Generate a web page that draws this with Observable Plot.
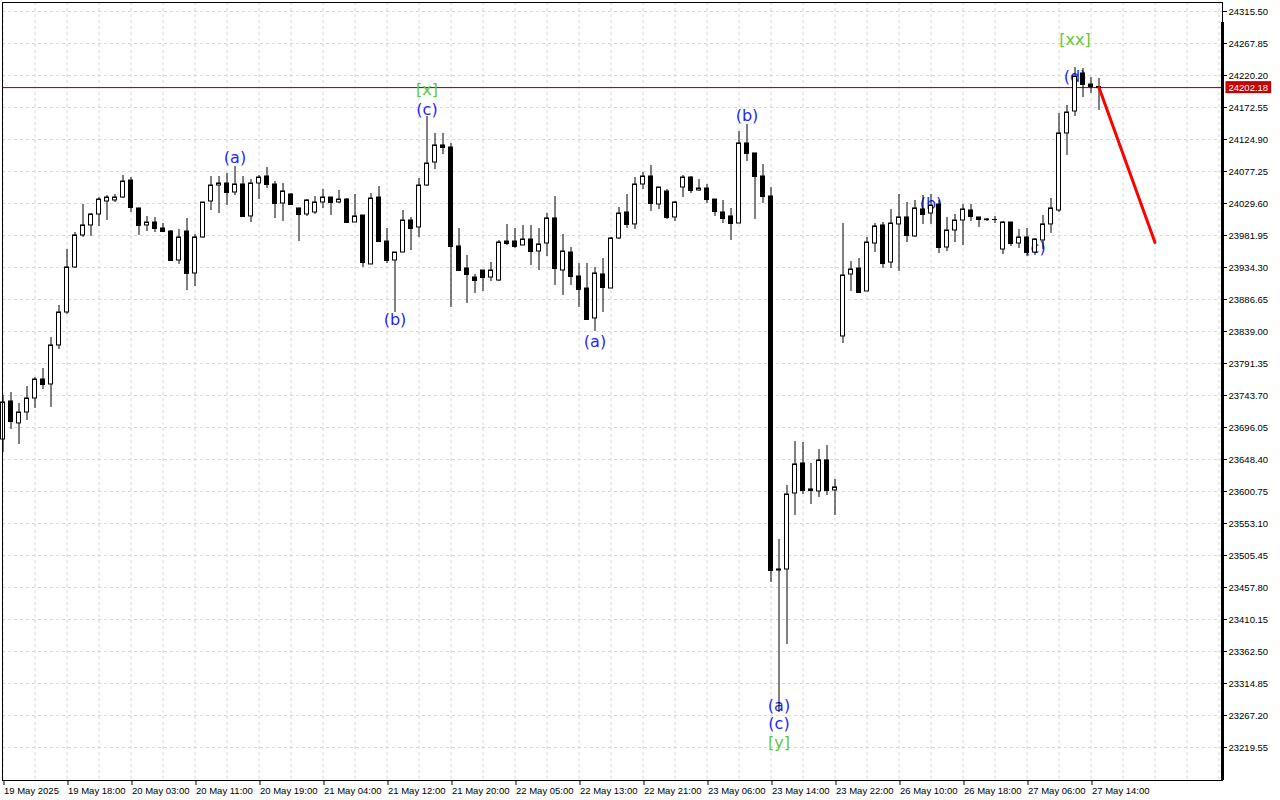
<!DOCTYPE html>
<html><head><meta charset="utf-8">
<script src="https://cdn.jsdelivr.net/npm/d3@7"></script>
<script src="https://cdn.jsdelivr.net/npm/@observablehq/plot@0.6"></script>
<style>html,body{margin:0;padding:0;background:#fff;} #chart svg{display:block}</style>
</head><body><div id="chart"></div>
<script>
// ---- data (H1 candles) ----
const timeLabels = ["19 May 2025","19 May 18:00","20 May 03:00","20 May 11:00","20 May 19:00","21 May 04:00","21 May 12:00","21 May 20:00","22 May 05:00","22 May 13:00","22 May 21:00","23 May 06:00","23 May 14:00","23 May 22:00","26 May 10:00","26 May 18:00","27 May 06:00","27 May 14:00"];
const timeTickIdx = [0,8,16,24,32,40,48,56,64,72,80,88,96,104,112,120,128,136];
const priceTicks = [24315.50,24267.85,24220.20,24172.55,24124.90,24077.25,24029.60,23981.95,23934.30,23886.65,23839.00,23791.35,23743.70,23696.05,23648.40,23600.75,23553.10,23505.45,23457.80,23410.15,23362.50,23314.85,23267.20,23219.55];

const opens = [23678.2,23734.8,23702.1,23718.4,23739.2,23767.5,23760.1,23818.2,23867.3,23934.3,
23982.0,23996.9,24013.2,24032.6,24034.1,24038.5,24063.8,24022.2,23996.9,24001.3,
23992.4,23987.9,23944.7,23987.9,23925.4,23979.0,24032.6,24056.4,24059.4,24046.0,
24057.9,24010.3,24059.4,24069.8,24057.9,24029.6,24043.0,24022.2,24013.2,24016.2,
24031.1,24038.5,24031.1,24035.5,24001.3,24011.7,23938.8,24038.5,23973.0,23944.7,
23956.6,24004.3,23993.9,24056.4,24090.6,24116.0,24113.0,23965.6,23932.8,23919.4,
23929.8,23919.4,23914.9,23973.0,23973.0,23967.1,23976.0,23958.1,23970.0,24007.3,
23929.8,23956.6,23920.9,23903.0,23858.4,23923.9,23903.0,23977.5,24016.2,23998.4,
24057.9,24069.8,24028.1,24047.5,24008.8,24053.4,24068.3,24049.0,24051.9,24035.5,
24016.2,24010.3,23999.8,24119.0,24104.1,24069.8,24040.0,23483.1,23484.6,23597.8,
23642.5,23603.8,23600.8,23647.0,23602.3,23831.6,23923.9,23932.8,23898.6,23970.0,
23996.9,23941.7,23998.4,24008.8,23980.5,24020.7,24014.7,24028.1,23964.1,23989.4,
24004.3,24019.2,24008.8,24005.8,24005.8,23961.1,24001.3,23970.0,23979.0,23956.6,
23974.5,23998.4,24019.2,24133.9,24166.6,24223.2,24206.8,24203.1];
const highs = [23743.7,23748.2,23731.8,23757.1,23770.5,23783.9,23830.1,23877.8,23961.1,23986.4,
24028.1,24014.7,24038.5,24041.5,24043.0,24071.3,24068.3,24022.2,24010.3,24008.8,
23999.8,23989.4,23990.9,24007.3,23983.5,24031.1,24069.8,24069.8,24074.3,24084.7,
24069.8,24065.3,24071.3,24083.2,24062.3,24059.4,24044.5,24022.2,24035.5,24040.0,
24050.4,24038.5,24049.0,24037.0,24043.0,24011.7,24044.5,24054.9,23992.4,23956.6,
24019.2,24008.8,24066.8,24159.2,24133.9,24133.9,24119.0,23992.4,23952.1,23923.9,
23929.8,23941.7,23974.5,23998.4,23992.4,23996.9,23996.9,23992.4,24014.7,24040.0,
23983.5,23964.1,23940.2,23940.2,23934.3,23947.7,23979.0,24023.7,24043.0,24068.3,
24075.8,24086.2,24053.4,24050.4,24032.6,24071.3,24069.8,24065.3,24057.9,24035.5,
24034.1,24022.2,24136.8,24147.3,24104.1,24087.7,24053.4,23529.3,23609.7,23675.2,
23673.7,23642.5,23663.3,23669.2,23618.7,23999.8,23943.2,23947.7,23979.0,23999.8,
24001.3,24020.7,24043.0,24031.1,24034.1,24041.5,24043.0,24034.1,24008.8,24013.2,
24028.1,24028.1,24008.8,24007.3,24010.3,24002.8,24001.3,23990.9,23992.4,23977.5,
24011.7,24037.0,24163.6,24175.5,24232.1,24230.6,24217.2,24215.7];
const lows = [23658.8,23693.1,23670.8,23706.5,23724.4,23752.6,23725.9,23812.2,23864.4,23932.8,
23979.0,23980.5,23995.4,24004.3,24031.1,24037.0,24016.2,23982.0,23987.9,23986.4,
23986.4,23943.2,23938.8,23900.0,23906.0,23977.5,24019.2,24014.7,24026.6,24041.5,
24010.3,24001.3,24035.5,24051.9,24007.3,24002.8,24028.1,23973.0,24010.3,24013.2,
24022.2,24011.7,24029.6,23999.8,24001.3,23934.3,23938.8,23973.0,23940.2,23867.3,
23956.6,23959.6,23979.0,24054.9,24080.2,24102.5,23874.8,23928.3,23880.7,23895.6,
23898.6,23913.4,23913.4,23967.1,23962.6,23967.1,23937.3,23929.8,23950.6,23907.5,
23892.6,23907.5,23874.8,23856.9,23839.0,23867.3,23903.0,23976.0,23992.4,23990.9,
24050.4,24017.7,24020.7,24005.8,24002.8,24038.5,24044.5,24047.5,24029.6,24010.3,
23999.8,23974.5,23999.8,24092.1,24005.8,24029.6,23465.2,23271.6,23373.0,23565.1,
23596.3,23581.4,23591.9,23594.8,23565.1,23821.2,23898.6,23897.1,23898.6,23956.6,
23932.8,23932.8,23928.3,23971.5,23979.0,23998.4,23998.4,23955.1,23958.1,23971.5,
23967.1,24002.8,23993.9,24002.8,23999.8,23953.6,23965.6,23962.6,23950.6,23952.1,
23961.1,23985.0,24016.2,24101.1,24159.2,24187.5,24193.4,24168.1];
const closes = [23733.3,23705.0,23718.4,23739.2,23767.5,23760.1,23818.2,23867.3,23934.3,23982.0,
23996.9,24013.2,24035.5,24038.5,24038.5,24062.3,24023.7,23996.9,24001.3,23992.4,
23987.9,23944.7,23979.0,23925.4,23979.0,24031.1,24056.4,24059.4,24046.0,24057.9,
24010.3,24059.4,24068.3,24057.9,24029.6,24047.5,24028.1,24013.2,24034.1,24031.1,
24038.5,24031.1,24035.5,24001.3,24010.3,23941.7,24037.0,23973.0,23944.7,23956.6,
24004.3,23992.4,24056.4,24089.1,24116.0,24113.0,23965.6,23929.8,23923.9,23914.9,
23919.4,23929.8,23971.5,23970.0,23965.6,23976.0,23958.1,23968.6,24007.3,23932.8,
23958.1,23920.9,23901.6,23856.9,23925.4,23904.5,23977.5,24014.7,23998.4,24057.9,
24069.8,24029.6,24053.4,24008.8,24031.1,24068.3,24049.0,24051.9,24035.5,24017.7,
24007.3,23999.8,24119.0,24104.1,24069.8,24040.0,23483.1,23484.6,23596.3,23641.0,
23602.3,23602.3,23647.0,23602.3,23606.8,23922.4,23931.3,23897.1,23971.5,23995.4,
23940.2,23999.8,24008.8,23982.0,24022.2,24013.2,24026.6,23964.1,23989.4,24004.3,
24020.7,24010.3,24005.8,24005.5,24005.8,24001.3,23970.0,23979.0,23956.6,23976.0,
23998.4,24022.2,24133.9,24165.1,24218.7,24206.8,24203.8,24202.18];

// wave annotations
const waveText  = ["(a)","[x]","(c)","(b)","(a)","(b)","(a)","(c)","[y]","(b)","(c)","(d)","[xx]"];
const waveIdx   = [29,53,53,49,74,93,97,97,97,116,129,134,134];
const wavePrice = [24097.4,24199.4,24169.6,23856.9,23824.1,24159.9,23281.4,23254.6,23226.3,24028.9,23963.4,24217.5,24272.6];

const lastPrice = 24202.18;
const projIdx = [137, 144];
const projPrice = [24202.18, 23971.6];

// ---- build tables ----
const candles = opens.map((o, i) => ({i, open: o, high: highs[i], low: lows[i], close: closes[i]}));
const waves = waveText.map((t, k) => ({t, i: waveIdx[k], p: wavePrice[k]}));
const proj = projIdx.map((x, k) => ({i: x, p: projPrice[k]}));
const labelMap = new Map(timeTickIdx.map((d, k) => [d, timeLabels[k]]));

const W = 1280, H = 800;
const mL = 2, mR = 58, mT = 2, mB = 20;
const xDomain = [-0.0625, 152.4375];
const yDomain = [23170.41, 24328.90];
const gridX = d3.range(0, 153, 4);

const chart = Plot.plot({
  width: W, height: H,
  marginLeft: mL, marginRight: mR, marginTop: mT, marginBottom: mB,
  style: {background: "#ffffff", fontFamily: "'Liberation Sans', Arial, sans-serif", color: "#000"},
  x: {type: "linear", domain: xDomain, axis: null},
  y: {type: "linear", domain: yDomain, axis: null},
  marks: [
    Plot.gridY(priceTicks, {stroke: "#d9d9d9", strokeOpacity: 1, strokeDasharray: "3,3"}),
    Plot.gridX(gridX, {stroke: "#d9d9d9", strokeOpacity: 1, strokeDasharray: "3,3"}),
    Plot.ruleY([lastPrice], {stroke: "#8b0000", strokeWidth: 1}),
    Plot.text(waves, {x: "i", y: "p", text: "t", fontSize: 16,
      fontFamily: "'DejaVu Sans', sans-serif",
      fill: d => d.t.startsWith("[") ? "#62c934" : "#1f1fff"}),
    Plot.ruleX(candles, {x: "i", y1: "low", y2: "high", stroke: "#000", strokeWidth: 1}),
    Plot.rect(candles, {x1: d => d.i - 0.25, x2: d => d.i + 0.25, y1: "open", y2: "close",
      fill: d => d.close >= d.open ? "#fff" : "#000", stroke: "#000", strokeWidth: 1}),
    Plot.ruleY(candles, {y: "close", x1: d => d.i - 0.3125, x2: d => d.i + 0.3125, stroke: "#000", strokeWidth: 1}),
    Plot.line(proj, {x: "i", y: "p", stroke: "#ff0000", strokeWidth: 3}),
    Plot.frame({stroke: "#000", strokeWidth: 1}),
    Plot.ruleX([xDomain[1]], {y1: 24299, y2: yDomain[0], stroke: "#000", strokeWidth: 3}),
    Plot.axisY(priceTicks, {anchor: "right", tickSize: 4, tickPadding: 2, fontSize: 9.5,
      tickFormat: d => d.toFixed(2), label: null}),
    Plot.axisX(timeTickIdx, {anchor: "bottom", tickSize: 5, tickPadding: 2, fontSize: 9.5,
      textAnchor: "start", dx: 1, tickFormat: d => labelMap.get(d), label: null}),
    Plot.text([lastPrice], {y: d => d, frameAnchor: "right", dx: 6, textAnchor: "start",
      fill: "#fff", fontSize: 9.5, text: d => d.toFixed(2), className: "pricetag"})
  ]
});
document.getElementById("chart").appendChild(chart);

// red background behind the last-price tag (same transform as the text)
const tagNode = chart.querySelector(".pricetag text");
if (tagNode) {
  const b = tagNode.getBBox();
  const r = document.createElementNS("http://www.w3.org/2000/svg", "rect");
  r.setAttribute("x", b.x - 3);
  r.setAttribute("y", b.y - 0.5);
  r.setAttribute("width", b.width + 6);
  r.setAttribute("height", b.height + 1);
  r.setAttribute("fill", "#c80000");
  const tr = tagNode.getAttribute("transform");
  if (tr) r.setAttribute("transform", tr);
  tagNode.parentNode.insertBefore(r, tagNode);
}
</script>
</body></html>
